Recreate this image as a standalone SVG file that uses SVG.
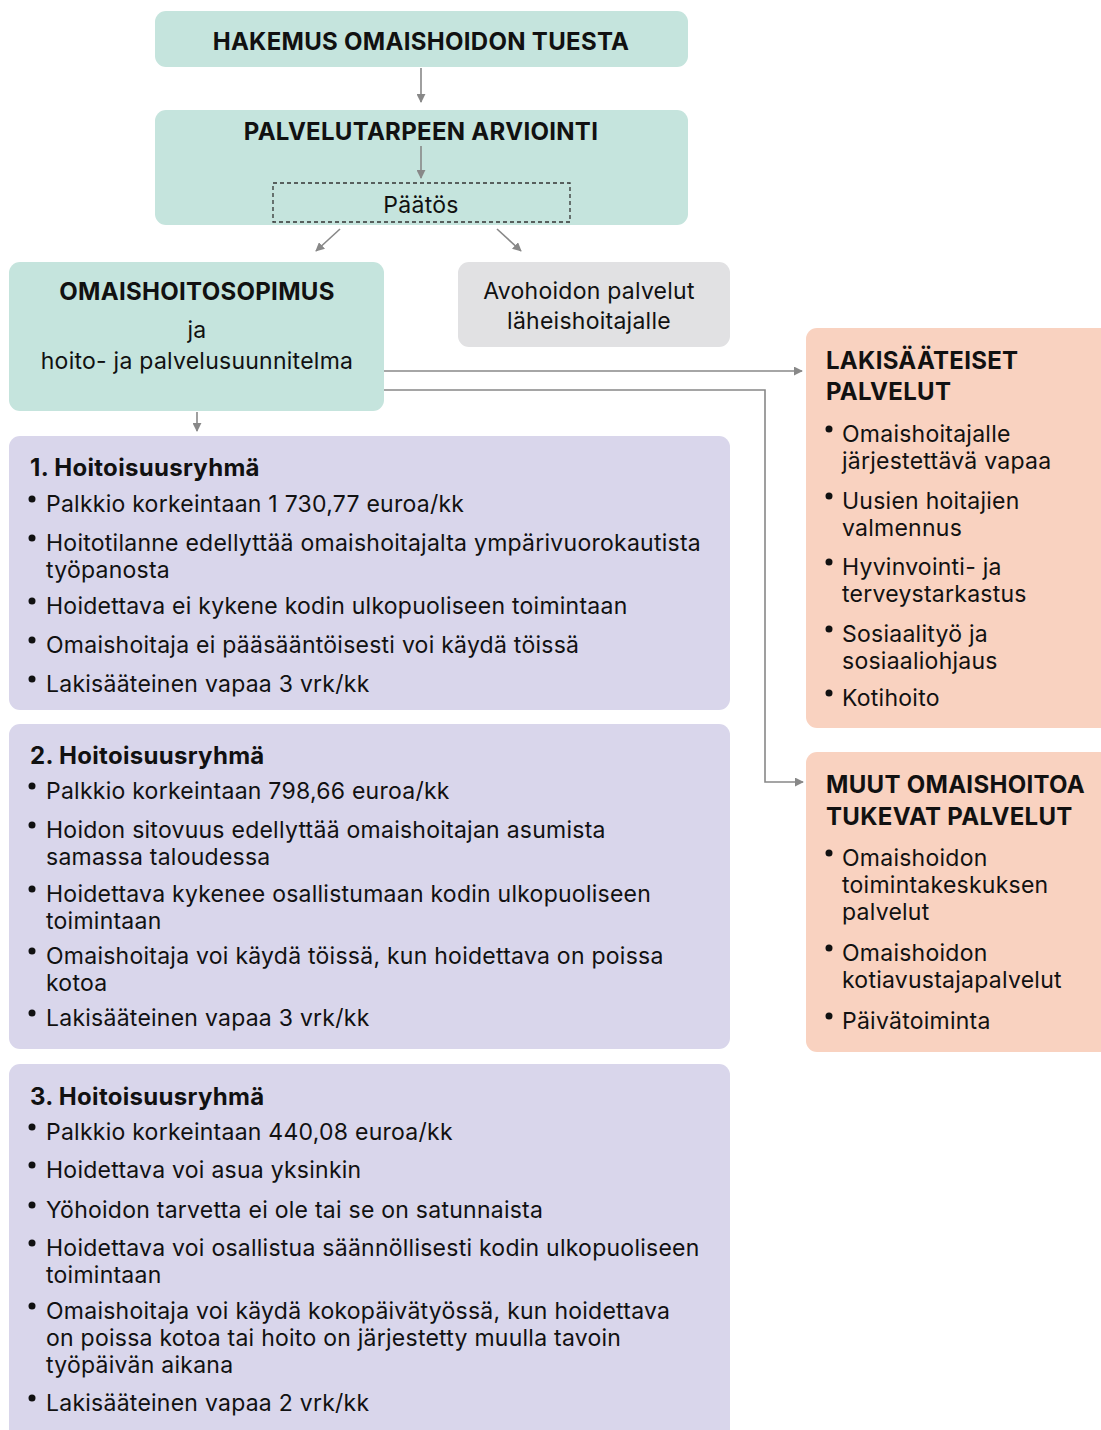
<svg xmlns="http://www.w3.org/2000/svg" width="1101" height="1430" viewBox="0 0 1101 1430">
<defs>
<style>
text{font-family:Inter,"Liberation Sans",sans-serif;fill:#111;font-size:23px;letter-spacing:0.25px}
.t{font-weight:700;font-size:24px;letter-spacing:0.3px}
.c{text-anchor:middle}
.teal{fill:#c5e4dd}
.grey{fill:#e1e1e3}
.lav{fill:#d9d6eb}
.peach{fill:#f9d2c0}
.con{stroke:#888;stroke-width:1.6;fill:none}
.dot{fill:#111}
</style>
<marker id="ah" viewBox="0 0 10 10" refX="9" refY="5" markerWidth="9" markerHeight="9" orient="auto" markerUnits="userSpaceOnUse">
<path d="M0,0 L10,5 L0,10 z" fill="#888"/>
</marker>
</defs>
<rect width="1101" height="1430" fill="#fff"/>

<g id="n-hakemus">
<rect class="teal" x="155" y="11" width="533" height="56" rx="11"/>
<text class="t c" x="421" y="50">HAKEMUS OMAISHOIDON TUESTA</text>
</g>

<g id="n-arviointi">
<rect class="teal" x="155" y="110" width="533" height="115" rx="11"/>
<text class="t c" x="421" y="140">PALVELUTARPEEN ARVIOINTI</text>
</g>

<g id="n-paatos">
<rect x="273" y="183" width="297" height="39" fill="none" stroke="#333" stroke-width="1.3" stroke-dasharray="4,3"/>
<text class="c" x="421" y="213">Päätös</text>
</g>

<g id="n-sopimus">
<rect class="teal" x="9" y="262" width="375" height="149" rx="11"/>
<text class="t c" x="197" y="300">OMAISHOITOSOPIMUS</text>
<text class="c" x="197" y="338">ja</text>
<text class="c" x="197" y="369">hoito- ja palvelusuunnitelma</text>
</g>

<g id="n-avohoito">
<rect class="grey" x="458" y="262" width="272" height="85" rx="11"/>
<text class="c" x="589" y="299">Avohoidon palvelut</text>
<text class="c" x="589" y="329">läheishoitajalle</text>
</g>

<g id="n-ryhma1">
<rect class="lav" x="9" y="436" width="721" height="274" rx="11"/>
<text class="t" x="30" y="476">1. Hoitoisuusryhmä</text>
<circle class="dot" cx="32" cy="499" r="3.5"/>
<text x="46" y="512">Palkkio korkeintaan 1 730,77 euroa/kk</text>
<circle class="dot" cx="32" cy="538" r="3.5"/>
<text x="46" y="551">Hoitotilanne edellyttää omaishoitajalta ympärivuorokautista</text>
<text x="46" y="578">työpanosta</text>
<circle class="dot" cx="32" cy="601" r="3.5"/>
<text x="46" y="614">Hoidettava ei kykene kodin ulkopuoliseen toimintaan</text>
<circle class="dot" cx="32" cy="640" r="3.5"/>
<text x="46" y="653">Omaishoitaja ei pääsääntöisesti voi käydä töissä</text>
<circle class="dot" cx="32" cy="679" r="3.5"/>
<text x="46" y="692">Lakisääteinen vapaa 3 vrk/kk</text>
</g>

<g id="n-ryhma2">
<rect class="lav" x="9" y="724" width="721" height="325" rx="11"/>
<text class="t" x="30" y="764">2. Hoitoisuusryhmä</text>
<circle class="dot" cx="32" cy="786" r="3.5"/>
<text x="46" y="799">Palkkio korkeintaan 798,66 euroa/kk</text>
<circle class="dot" cx="32" cy="825" r="3.5"/>
<text x="46" y="838">Hoidon sitovuus edellyttää omaishoitajan asumista</text>
<text x="46" y="865">samassa taloudessa</text>
<circle class="dot" cx="32" cy="889" r="3.5"/>
<text x="46" y="902">Hoidettava kykenee osallistumaan kodin ulkopuoliseen</text>
<text x="46" y="929">toimintaan</text>
<circle class="dot" cx="32" cy="951" r="3.5"/>
<text x="46" y="964">Omaishoitaja voi käydä töissä, kun hoidettava on poissa</text>
<text x="46" y="991">kotoa</text>
<circle class="dot" cx="32" cy="1013" r="3.5"/>
<text x="46" y="1026">Lakisääteinen vapaa 3 vrk/kk</text>
</g>

<g id="n-ryhma3">
<rect class="lav" x="9" y="1064" width="721" height="380" rx="11"/>
<text class="t" x="30" y="1105">3. Hoitoisuusryhmä</text>
<circle class="dot" cx="32" cy="1127" r="3.5"/>
<text x="46" y="1140">Palkkio korkeintaan 440,08 euroa/kk</text>
<circle class="dot" cx="32" cy="1165" r="3.5"/>
<text x="46" y="1178">Hoidettava voi asua yksinkin</text>
<circle class="dot" cx="32" cy="1205" r="3.5"/>
<text x="46" y="1218">Yöhoidon tarvetta ei ole tai se on satunnaista</text>
<circle class="dot" cx="32" cy="1243" r="3.5"/>
<text x="46" y="1256">Hoidettava voi osallistua säännöllisesti kodin ulkopuoliseen</text>
<text x="46" y="1283">toimintaan</text>
<circle class="dot" cx="32" cy="1306" r="3.5"/>
<text x="46" y="1319">Omaishoitaja voi käydä kokopäivätyössä, kun hoidettava</text>
<text x="46" y="1346">on poissa kotoa tai hoito on järjestetty muulla tavoin</text>
<text x="46" y="1373">työpäivän aikana</text>
<circle class="dot" cx="32" cy="1398" r="3.5"/>
<text x="46" y="1411">Lakisääteinen vapaa 2 vrk/kk</text>
</g>

<g id="n-lakisaateiset">
<rect class="peach" x="806" y="328" width="310" height="400" rx="11"/>
<text class="t" x="826" y="369">LAKISÄÄTEISET</text>
<text class="t" x="826" y="400">PALVELUT</text>
<circle class="dot" cx="829" cy="429" r="3.5"/>
<text x="842" y="442">Omaishoitajalle</text>
<text x="842" y="469">järjestettävä vapaa</text>
<circle class="dot" cx="829" cy="496" r="3.5"/>
<text x="842" y="509">Uusien hoitajien</text>
<text x="842" y="536">valmennus</text>
<circle class="dot" cx="829" cy="562" r="3.5"/>
<text x="842" y="575">Hyvinvointi- ja</text>
<text x="842" y="602">terveystarkastus</text>
<circle class="dot" cx="829" cy="629" r="3.5"/>
<text x="842" y="642">Sosiaalityö ja</text>
<text x="842" y="669">sosiaaliohjaus</text>
<circle class="dot" cx="829" cy="693" r="3.5"/>
<text x="842" y="706">Kotihoito</text>
</g>

<g id="n-muut">
<rect class="peach" x="806" y="752" width="310" height="300" rx="11"/>
<text class="t" x="826" y="793">MUUT OMAISHOITOA</text>
<text class="t" x="826" y="825">TUKEVAT PALVELUT</text>
<circle class="dot" cx="829" cy="853" r="3.5"/>
<text x="842" y="866">Omaishoidon</text>
<text x="842" y="893">toimintakeskuksen</text>
<text x="842" y="920">palvelut</text>
<circle class="dot" cx="829" cy="948" r="3.5"/>
<text x="842" y="961">Omaishoidon</text>
<text x="842" y="988">kotiavustajapalvelut</text>
<circle class="dot" cx="829" cy="1016" r="3.5"/>
<text x="842" y="1029">Päivätoiminta</text>
</g>

<g id="connectors">
<line class="con" x1="421" y1="68" x2="421" y2="102" marker-end="url(#ah)"/>
<line class="con" x1="421" y1="146" x2="421" y2="178" marker-end="url(#ah)"/>
<line class="con" x1="340" y1="229" x2="316" y2="251" marker-end="url(#ah)"/>
<line class="con" x1="497" y1="229" x2="521" y2="251" marker-end="url(#ah)"/>
<line class="con" x1="384" y1="371" x2="802" y2="371" marker-end="url(#ah)"/>
<polyline class="con" points="384,390 765,390 765,782 803,782" marker-end="url(#ah)"/>
<line class="con" x1="197" y1="412" x2="197" y2="431" marker-end="url(#ah)"/>
</g>
</svg>
